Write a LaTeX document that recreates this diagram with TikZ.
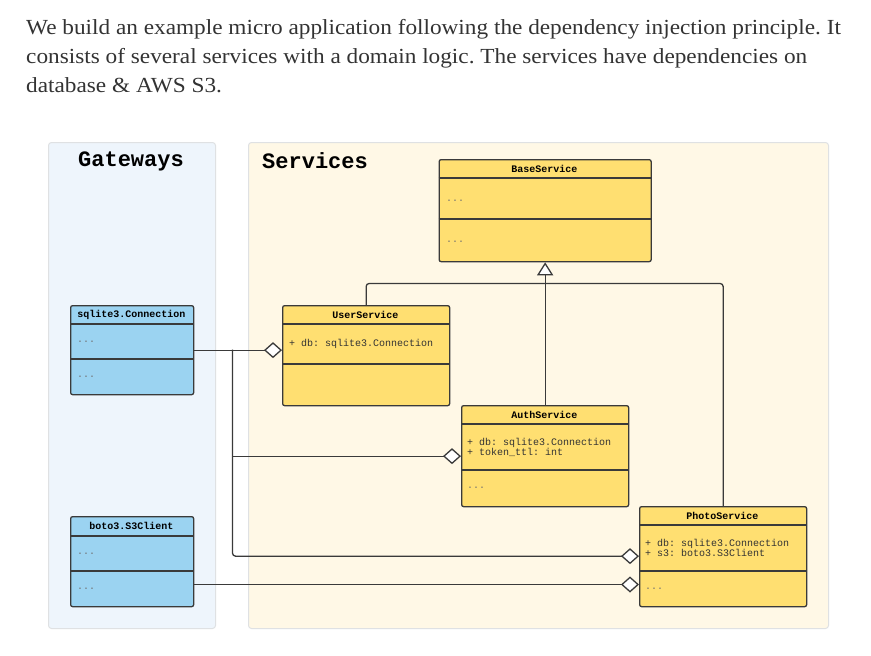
\documentclass[tikz,border=0pt]{standalone}
\usepackage{fontspec}
\setmainfont{Liberation Serif}[FakeStretch=1.082]
\setmonofont{Liberation Mono}
\usetikzlibrary{arrows.meta}
\definecolor{gwbg}{HTML}{EEF5FC}
\definecolor{svbg}{HTML}{FFF8E6}
\definecolor{panelline}{HTML}{DFE1E3}
\definecolor{yelbox}{HTML}{FFDF71}
\definecolor{bluebox}{HTML}{9BD3F1}
\definecolor{linec}{HTML}{3A3A3A}
\definecolor{txt}{HTML}{333333}
\definecolor{dotc}{HTML}{707070}
\frenchspacing
\begin{document}
\begin{tikzpicture}[x=1pt,y=-1pt,
  para/.style={anchor=base west,inner sep=0,text=txt,font=\fontsize{21.5}{26}\selectfont},
  panel/.style={draw=panelline,line width=1pt,rounded corners=3pt,anchor=north west,inner sep=0},
  ptitle/.style={inner sep=0,text=black,font=\fontsize{22}{24}\selectfont\ttfamily\bfseries},
  cls/.style={draw=linec,line width=1.3pt,rounded corners=2pt,anchor=north west,inner sep=0},
  ycls/.style={cls,fill=yelbox},
  bcls/.style={cls,fill=bluebox},
  divl/.style={draw=linec,line width=1.1pt},
  hdr/.style={inner sep=0,text=black,font=\fontsize{10}{11}\selectfont\ttfamily\bfseries},
  attr/.style={anchor=west,inner sep=0,align=left,text=txt,font=\fontsize{10}{10}\selectfont\ttfamily},
  dots/.style={anchor=west,inner sep=0,text=dotc,font=\fontsize{10}{10}\selectfont\ttfamily},
  conn/.style={draw=linec,line width=1.3pt},
  agg/.style={conn,-{Diamond[fill=white,length=18pt,width=16pt]}},
  inh/.style={conn,-{Triangle[fill=white,length=13pt,width=16pt]}}
]
\useasboundingbox (0,0) rectangle (871,656);
\fill[white] (0,0) rectangle (871,656);

% paragraph
\node[para] (p1) at (26,34) {We build an example micro application following the dependency injection principle. It};
\node[para] (p2) at (26,63) {consists of several services with a domain logic. The services have dependencies on};
\node[para] (p3) at (26,92) {database \& AWS S3.};

% panels
\node[panel,fill=gwbg,minimum width=167pt,minimum height=486pt] (gw) at (48,142) {};
\node[panel,fill=svbg,minimum width=580pt,minimum height=486pt] (sv) at (248,142) {};
\node[ptitle] (gwT) at (131,161) {Gateways};
\node[ptitle,anchor=west] (svT) at (262,161) {Services};

% classes
\node[ycls,minimum width=212pt,minimum height=102pt] (base) at (438.5,159) {};
\node[ycls,minimum width=167pt,minimum height=100pt] (user) at (282,305) {};
\node[bcls,minimum width=123pt,minimum height=89pt] (sqlite) at (70,305) {};
\node[ycls,minimum width=167pt,minimum height=101pt] (auth) at (461,405) {};
\node[ycls,minimum width=167pt,minimum height=100pt] (photo) at (639,506) {};
\node[bcls,minimum width=123pt,minimum height=90pt] (boto) at (70,516) {};

% dividers
\draw[divl] (base.west |- 0,178) -- (base.east |- 0,178);
\draw[divl] (base.west |- 0,219) -- (base.east |- 0,219);
\draw[divl] (user.west |- 0,324) -- (user.east |- 0,324);
\draw[divl] (user.west |- 0,364) -- (user.east |- 0,364);
\draw[divl] (sqlite.west |- 0,324) -- (sqlite.east |- 0,324);
\draw[divl] (sqlite.west |- 0,359) -- (sqlite.east |- 0,359);
\draw[divl] (auth.west |- 0,424) -- (auth.east |- 0,424);
\draw[divl] (auth.west |- 0,470) -- (auth.east |- 0,470);
\draw[divl] (photo.west |- 0,525) -- (photo.east |- 0,525);
\draw[divl] (photo.west |- 0,571) -- (photo.east |- 0,571);
\draw[divl] (boto.west |- 0,536) -- (boto.east |- 0,536);
\draw[divl] (boto.west |- 0,571) -- (boto.east |- 0,571);

% texts
\node[hdr] (baseH) at (544.5,169) {BaseService};
\node[dots] (baseD1) at (446,201) {...};
\node[dots] (baseD2) at (446,242) {...};

\node[hdr] (userH) at (365.5,314.5) {UserService};
\node[attr] (userA) at (289,344) {+ db: sqlite3.Connection};

\node[hdr] (sqlH) at (131.5,314.5) {sqlite3.Connection};
\node[dots] (sqlD1) at (77,342) {...};
\node[dots] (sqlD2) at (77,377) {...};

\node[hdr] (authH) at (544.5,414.5) {AuthService};
\node[attr] (authA) at (467,447) {+ db: sqlite3.Connection\\+ token\_ttl: int};
\node[dots] (authD) at (467,488) {...};

\node[hdr] (photoH) at (722.5,515.5) {PhotoService};
\node[attr] (photoA) at (645,548) {+ db: sqlite3.Connection\\+ s3: boto3.S3Client};
\node[dots] (photoD) at (645,589) {...};

\node[hdr] (botoH) at (131.5,526) {boto3.S3Client};
\node[dots] (botoD1) at (77,554) {...};
\node[dots] (botoD2) at (77,589) {...};

% connectors
\coordinate (hub) at (544.5,283.5);
\coordinate (split) at (232.5,349.5);
\draw[conn,rounded corners=3pt] (user.north) |- (hub) -| (photo.north);
\draw[inh] (auth.north) -- (auth.north |- base.south);
\draw[agg] (sqlite.east) -- (sqlite.east -| user.west);
\draw[agg] (split) |- (auth.west);
\draw[agg,rounded corners=3pt] (split) |- ([yshift=0.5pt]photo.west);
\draw[agg] (boto.east |- 0,584.5) -- (photo.west |- 0,584.5);
\end{tikzpicture}
\end{document}
